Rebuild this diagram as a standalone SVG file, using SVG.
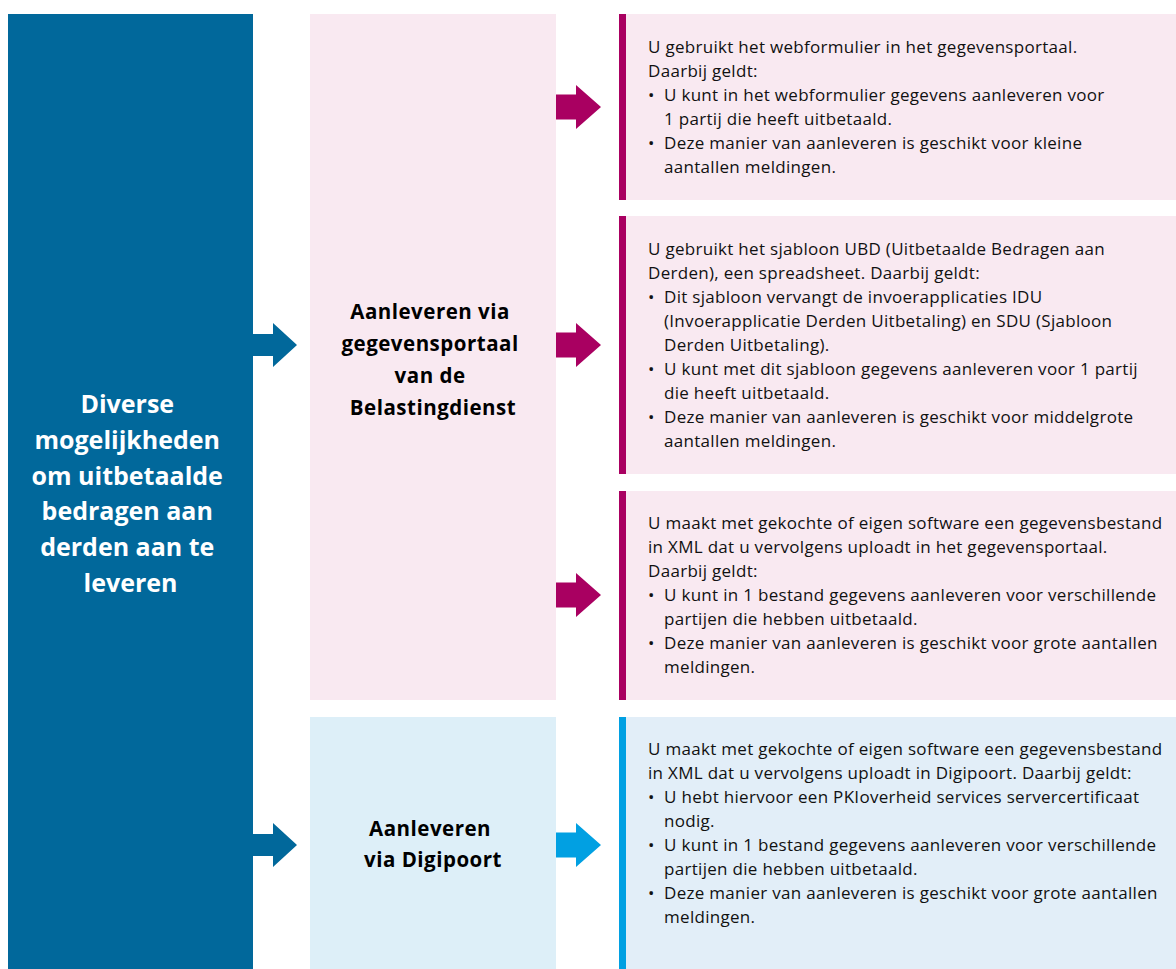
<svg xmlns="http://www.w3.org/2000/svg" width="1176" height="969" viewBox="0 0 1176 969">
<style>
.main{fill:#01689b}
.pink{fill:#f9e9f1}
.lblue{fill:#ddeff8}
.rblue{fill:#e2eef8}
.mag{fill:#a90061}
.brt{fill:#01a0e2}
.title{font-family:"Open Sans","Noto Sans",sans-serif;font-weight:bold;font-size:25px;fill:#ffffff;text-anchor:middle}
.mid{font-family:"Open Sans","Noto Sans",sans-serif;font-weight:bold;font-size:20.5px;letter-spacing:0.5px;fill:#000000;text-anchor:middle}
.body{font-family:"Open Sans","Noto Sans",sans-serif;font-size:17px;letter-spacing:0.3px;fill:#111111}
</style>
<defs>
<path id="arrL" d="M0,-11 H20 V-22 L44,0 L20,22 V11 H0 Z"/>
<path id="arrR" d="M0,-12.5 H20 V-22 L45,0 L20,22 V12.5 H0 Z"/>
</defs>
<rect width="1176" height="969" fill="#ffffff"/>

<g id="root">
<rect class="main" x="8" y="14" width="245" height="955"/>
<text class="title">
<tspan x="130.5" y="413">Diverse</tspan>
<tspan x="130.5" y="449">mogelijkheden</tspan>
<tspan x="130.5" y="485">om uitbetaalde</tspan>
<tspan x="130.5" y="520">bedragen aan</tspan>
<tspan x="130.5" y="556">derden aan te</tspan>
<tspan x="130.5" y="592">leveren</tspan>
</text>
</g>

<g id="portaal">
<rect class="pink" x="310" y="14" width="246" height="686"/>
<text class="mid">
<tspan x="433" y="319">Aanleveren via</tspan>
<tspan x="433" y="351">gegevensportaal</tspan>
<tspan x="433" y="383">van de</tspan>
<tspan x="433" y="415">Belastingdienst</tspan>
</text>
</g>

<g id="digipoort">
<rect class="lblue" x="310" y="717" width="246" height="252"/>
<text class="mid">
<tspan x="433" y="836">Aanleveren</tspan>
<tspan x="433" y="867">via Digipoort</tspan>
</text>
</g>

<g id="webformulier">
<rect class="pink" x="619" y="14" width="557" height="186"/>
<rect class="mag" x="619" y="14" width="7" height="186"/>
<text class="body">
<tspan x="648" y="53">U gebruikt het webformulier in het gegevensportaal.</tspan>
<tspan x="648" y="77">Daarbij geldt:</tspan>
<tspan x="648" y="101">•</tspan><tspan x="664" y="101">U kunt in het webformulier gegevens aanleveren voor</tspan>
<tspan x="664" y="125">1 partij die heeft uitbetaald.</tspan>
<tspan x="648" y="149">•</tspan><tspan x="664" y="149">Deze manier van aanleveren is geschikt voor kleine</tspan>
<tspan x="664" y="173">aantallen meldingen.</tspan>
</text>
</g>

<g id="sjabloon">
<rect class="pink" x="619" y="216" width="557" height="258"/>
<rect class="mag" x="619" y="216" width="7" height="258"/>
<text class="body">
<tspan x="648" y="255">U gebruikt het sjabloon UBD (Uitbetaalde Bedragen aan</tspan>
<tspan x="648" y="279">Derden), een spreadsheet. Daarbij geldt:</tspan>
<tspan x="648" y="303">•</tspan><tspan x="664" y="303">Dit sjabloon vervangt de invoerapplicaties IDU</tspan>
<tspan x="664" y="327">(Invoerapplicatie Derden Uitbetaling) en SDU (Sjabloon</tspan>
<tspan x="664" y="351">Derden Uitbetaling).</tspan>
<tspan x="648" y="375">•</tspan><tspan x="664" y="375">U kunt met dit sjabloon gegevens aanleveren voor 1 partij</tspan>
<tspan x="664" y="399">die heeft uitbetaald.</tspan>
<tspan x="648" y="423">•</tspan><tspan x="664" y="423">Deze manier van aanleveren is geschikt voor middelgrote</tspan>
<tspan x="664" y="447">aantallen meldingen.</tspan>
</text>
</g>

<g id="xmlportaal">
<rect class="pink" x="619" y="491" width="557" height="209"/>
<rect class="mag" x="619" y="491" width="7" height="209"/>
<text class="body">
<tspan x="648" y="529">U maakt met gekochte of eigen software een gegevensbestand</tspan>
<tspan x="648" y="553">in XML dat u vervolgens uploadt in het gegevensportaal.</tspan>
<tspan x="648" y="577">Daarbij geldt:</tspan>
<tspan x="648" y="601">•</tspan><tspan x="664" y="601">U kunt in 1 bestand gegevens aanleveren voor verschillende</tspan>
<tspan x="664" y="625">partijen die hebben uitbetaald.</tspan>
<tspan x="648" y="649">•</tspan><tspan x="664" y="649">Deze manier van aanleveren is geschikt voor grote aantallen</tspan>
<tspan x="664" y="673">meldingen.</tspan>
</text>
</g>

<g id="xmldigipoort">
<rect class="rblue" x="619" y="717" width="557" height="252"/>
<rect class="brt" x="619" y="717" width="7" height="252"/>
<text class="body">
<tspan x="648" y="755">U maakt met gekochte of eigen software een gegevensbestand</tspan>
<tspan x="648" y="779">in XML dat u vervolgens uploadt in Digipoort. Daarbij geldt:</tspan>
<tspan x="648" y="803">•</tspan><tspan x="664" y="803">U hebt hiervoor een PKIoverheid services servercertificaat</tspan>
<tspan x="664" y="827">nodig.</tspan>
<tspan x="648" y="851">•</tspan><tspan x="664" y="851">U kunt in 1 bestand gegevens aanleveren voor verschillende</tspan>
<tspan x="664" y="875">partijen die hebben uitbetaald.</tspan>
<tspan x="648" y="899">•</tspan><tspan x="664" y="899">Deze manier van aanleveren is geschikt voor grote aantallen</tspan>
<tspan x="664" y="923">meldingen.</tspan>
</text>
</g>

<g id="connectors">
<use href="#arrL" class="main" x="253" y="345"/>
<use href="#arrL" class="main" x="253" y="845"/>
<use href="#arrR" class="mag" x="556" y="107"/>
<use href="#arrR" class="mag" x="556" y="345"/>
<use href="#arrR" class="mag" x="556" y="595"/>
<use href="#arrR" class="brt" x="556" y="845"/>
</g>
</svg>
